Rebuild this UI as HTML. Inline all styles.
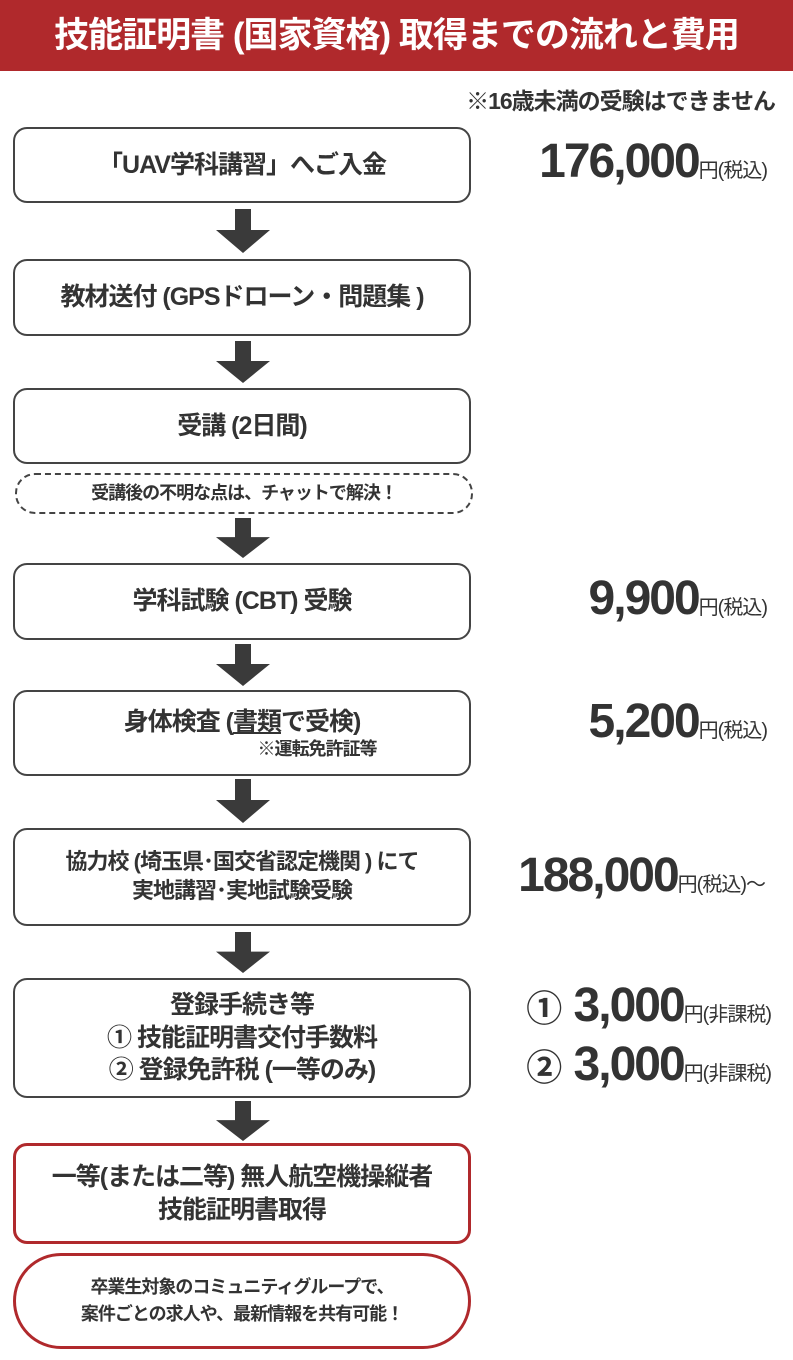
<!DOCTYPE html>
<html><head><meta charset="utf-8"><style>
*{margin:0;padding:0;box-sizing:border-box}
body{width:793px;height:1360px;position:relative;background:#fff;font-family:"Liberation Sans","Noto Sans CJK JP",sans-serif;color:#333;overflow:hidden;font-weight:bold}
.hdr{position:absolute;left:0;top:0;width:793px;height:71px;background:#b0292c;color:#fff;font-size:35px;text-align:center;line-height:71px;letter-spacing:-1px}
.box{position:absolute;left:13px;width:458px;border:2.5px solid #444;border-radius:14px;display:flex;flex-direction:column;align-items:center;justify-content:center;text-align:center;font-size:25px;letter-spacing:-1px;line-height:1.3}
.red{border-color:#b0292c;border-width:3px}
.arr{position:absolute;left:216px;width:54px}
.price{position:absolute;right:24px;white-space:nowrap;font-size:48px;letter-spacing:-2px;line-height:50px}
.price small{font-size:20px;letter-spacing:-1px;font-weight:normal}
.c{font-size:36px;font-weight:bold;letter-spacing:0}
</style></head><body>
<div class="hdr">技能証明書 (国家資格) 取得までの流れと費用</div>
<div style="position:absolute;right:18px;top:82px;font-size:23px;letter-spacing:-1px">※16歳未満の受験はできません</div>

<div class="box" style="top:127px;height:76px">「UAV学科講習」へご入金</div>
<div class="box" style="top:259px;height:77px">教材送付 (GPSドローン・問題集 )</div>
<div class="box" style="top:388px;height:76px">受講 (2日間)</div>
<div class="box" style="top:473px;height:41px;border:2.5px dashed #444;border-radius:20px;font-size:18px;left:15px">受講後の不明な点は、チャットで解決！</div>
<div class="box" style="top:563px;height:77px">学科試験 (CBT) 受験</div>
<div class="box" style="top:690px;height:86px;justify-content:flex-start;padding-top:14px"><div>身体検査 (<u>書類</u>で受検)</div><div style="font-size:18px;margin-left:150px;line-height:1.2">※運転免許証等</div></div>
<div class="box" style="top:828px;height:98px;font-size:22px">協力校 (埼玉県･国交省認定機関 ) にて<br>実地講習･実地試験受験</div>
<div class="box" style="top:978px;height:120px">登録手続き等<br>① 技能証明書交付手数料<br>② 登録免許税 (一等のみ)</div>
<div class="box red" style="top:1143px;height:101px">一等(または二等) 無人航空機操縦者<br>技能証明書取得</div>
<div class="box red" style="top:1253px;height:96px;border-radius:48px;font-size:18px;line-height:1.5">卒業生対象のコミュニティグループで、<br>案件ごとの求人や、最新情報を共有可能！</div>

<svg class="arr" style="top:209px" height="44" viewBox="0 0 54 44" preserveAspectRatio="none"><path d="M19 0h16v21h19L27 44 0 21h19z" fill="#3a3a3a"/></svg>
<svg class="arr" style="top:341px" height="42" viewBox="0 0 54 44" preserveAspectRatio="none"><path d="M19 0h16v21h19L27 44 0 21h19z" fill="#3a3a3a"/></svg>
<svg class="arr" style="top:518px" height="40" viewBox="0 0 54 44" preserveAspectRatio="none"><path d="M19 0h16v21h19L27 44 0 21h19z" fill="#3a3a3a"/></svg>
<svg class="arr" style="top:644px" height="42" viewBox="0 0 54 44" preserveAspectRatio="none"><path d="M19 0h16v21h19L27 44 0 21h19z" fill="#3a3a3a"/></svg>
<svg class="arr" style="top:779px" height="44" viewBox="0 0 54 44" preserveAspectRatio="none"><path d="M19 0h16v21h19L27 44 0 21h19z" fill="#3a3a3a"/></svg>
<svg class="arr" style="top:932px" height="41" viewBox="0 0 54 44" preserveAspectRatio="none"><path d="M19 0h16v21h19L27 44 0 21h19z" fill="#3a3a3a"/></svg>
<svg class="arr" style="top:1101px" height="40" viewBox="0 0 54 44" preserveAspectRatio="none"><path d="M19 0h16v21h19L27 44 0 21h19z" fill="#3a3a3a"/></svg>

<div class="price" style="top:137px;right:26px">176,000<small>円(税込)</small></div>
<div class="price" style="top:574px;right:26px">9,900<small>円(税込)</small></div>
<div class="price" style="top:697px;right:26px">5,200<small>円(税込)</small></div>
<div class="price" style="top:851px;right:28px">188,000<small>円(税込)〜</small></div>
<div class="price" style="top:981px;right:22px"><span class="c">①</span> 3,000<small>円(非課税)</small></div>
<div class="price" style="top:1040px;right:22px"><span class="c">②</span> 3,000<small>円(非課税)</small></div>
</body></html>
